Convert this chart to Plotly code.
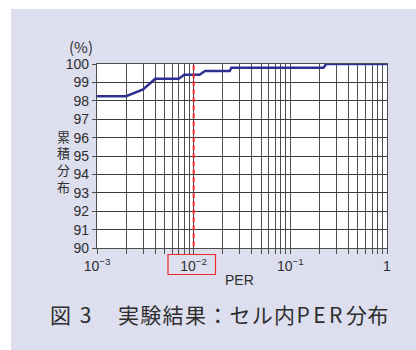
import plotly.graph_objects as go

# Cumulative distribution of in-cell PER (step curve)
per_values = [0.001, 0.002, 0.003, 0.004, 0.007, 0.008, 0.0115, 0.0131, 0.0236, 0.0245, 0.22, 0.235, 1.0]
cum_percent = [98.25, 98.25, 98.62, 99.2, 99.2, 99.42, 99.42, 99.62, 99.62, 99.8, 99.8, 100.0, 100.0]

# Threshold marker
threshold_per = 0.01
threshold_span = [90.1, 99.93]

# Axis ticks
decades = [0.001, 0.01, 0.1, 1.0]
decade_labels = ["10<sup>−3</sup>", "10<sup>−2</sup>", "10<sup>−1</sup>", "1"]
y_ticks = list(range(90, 101))
minor_vals = [round(d * m, 6) for d in decades[:-1] for m in range(2, 10)]

# Vertical y-axis title, one character per row
y_title_chars = ["累", "積", "分", "布"]

TXT = "#2e2e2e"
GRID = "#4d4d4d"
BG = "#dddfef"
CJK = "Noto Sans CJK JP"

fig = go.Figure()
fig.add_trace(go.Scatter(
    x=per_values, y=cum_percent, mode="lines",
    line=dict(color="#2e3192", width=2.5), hoverinfo="skip", showlegend=False,
))
fig.add_trace(go.Scatter(
    x=[threshold_per, threshold_per], y=threshold_span, mode="lines",
    line=dict(color="#ee2a2a", width=2, dash="5px,3px"), hoverinfo="skip", showlegend=False,
))

L, R, T, B = 97, 29, 64, 102
W, H = 416, 350
pw, ph = W - L - R, H - T - B


def px(x):
    return (x - L) / pw


def py(y):
    return (H - B - y) / ph


annotations = [
    dict(text="(%)", xref="paper", yref="paper", x=px(95), y=py(47), xanchor="right", yanchor="middle",
         showarrow=False, font=dict(size=15, color=TXT, family=CJK)),
    dict(text="PER", xref="paper", yref="paper", x=px(239), y=py(280), xanchor="center", yanchor="middle",
         showarrow=False, font=dict(size=14, color=TXT)),
    dict(text="<span style='letter-spacing:2px'>図 3</span>", xref="paper", yref="paper",
         x=px(48), y=py(314), xanchor="left", yanchor="middle", showarrow=False,
         font=dict(size=21, color=TXT, family=CJK)),
    dict(text="<span style='letter-spacing:1.3px'>実験結果：セル内</span>"
              "<span style='letter-spacing:3.5px'>PER</span>"
              "<span style='letter-spacing:0.5px'>分布</span>",
         xref="paper", yref="paper",
         x=px(116), y=py(314), xanchor="left", yanchor="middle", showarrow=False,
         font=dict(size=21, color=TXT, family=CJK)),
]
for i, ch in enumerate(y_title_chars):
    annotations.append(dict(
        text=ch, xref="paper", yref="paper", x=px(63), y=py(136 + 16.7 * i),
        xanchor="center", yanchor="middle", showarrow=False,
        font=dict(size=13, color=TXT, family=CJK),
    ))

fig.update_layout(
    width=W, height=H,
    margin=dict(l=L, r=R, t=T, b=B, pad=0),
    paper_bgcolor=BG, plot_bgcolor="white",
    font=dict(family="Liberation Sans, Arial, sans-serif", size=14, color=TXT),
    xaxis=dict(
        type="log", range=[-3, 0], tickmode="array",
        tickvals=decades, ticktext=decade_labels,
        showgrid=True, gridcolor=GRID, gridwidth=1.2,
        ticks="outside", ticklen=5, tickcolor=GRID, tickwidth=1.2,
        minor=dict(tickmode="array", tickvals=minor_vals, showgrid=True,
                   gridcolor=GRID, gridwidth=1.2, ticks="outside", ticklen=5,
                   tickcolor=GRID, tickwidth=1.2),
        showline=True, linecolor=GRID, linewidth=1.2, mirror=True,
        zeroline=False, tickfont=dict(size=14, color=TXT),
    ),
    yaxis=dict(
        range=[90, 100], tickmode="array", tickvals=y_ticks,
        showgrid=True, gridcolor="#3a3a3a", gridwidth=1.3,
        ticks="outside", ticklen=4, tickcolor=GRID, tickwidth=1.2,
        showline=True, linecolor=GRID, linewidth=1.2, mirror=True,
        zeroline=False, tickfont=dict(size=14, color=TXT),
    ),
    shapes=[
        # white frame strip along the top and left edges
        dict(type="rect", xref="paper", yref="paper", x0=px(0), x1=px(W), y0=py(9), y1=py(0),
             fillcolor="white", line=dict(width=0), layer="below"),
        dict(type="rect", xref="paper", yref="paper", x0=px(0), x1=px(11), y0=py(H), y1=py(0),
             fillcolor="white", line=dict(width=0), layer="below"),
        # highlight box around the 10^-2 label
        dict(type="rect", xref="paper", yref="paper", x0=px(168), x1=px(215.5), y0=py(274.5), y1=py(254.5),
             line=dict(color="#ee2a2a", width=1.2), fillcolor="rgba(0,0,0,0)"),
    ],
    annotations=annotations,
)

fig.write_html("out.html")
